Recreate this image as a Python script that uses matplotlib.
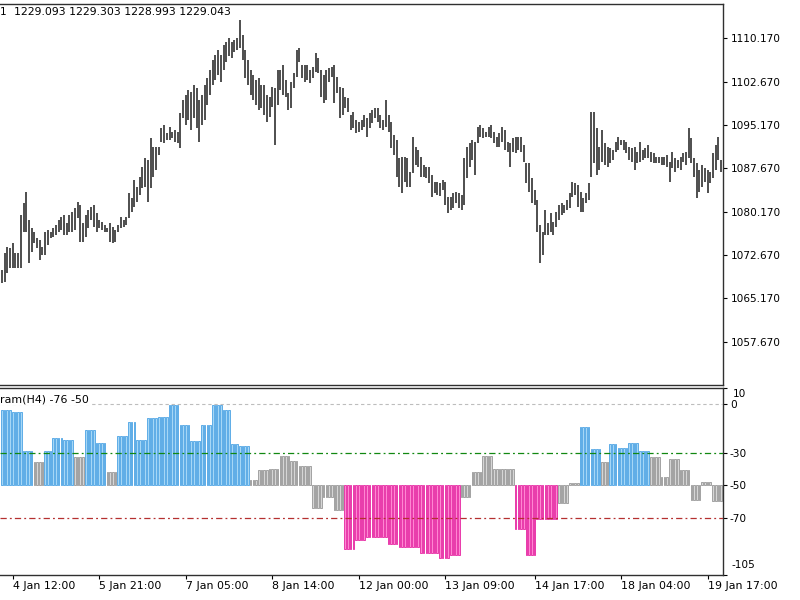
import matplotlib
matplotlib.use("Agg")
import matplotlib.pyplot as plt
import numpy as np

# ---------------- data ----------------
highs = [
    1070.1, 1073.0, 1074.1, 1073.9, 1074.8, 1073.0, 1073.0, 1079.6, 1081.7, 1083.6,
    1078.7, 1077.4, 1076.7, 1075.6, 1075.3, 1074.1, 1076.7, 1077.0, 1076.7, 1077.4,
    1077.9, 1078.7, 1079.2, 1079.6, 1078.2, 1079.6, 1080.1, 1080.8, 1081.8, 1081.3,
    1078.2, 1079.6, 1080.5, 1081.0, 1081.3, 1079.9, 1078.7, 1078.4, 1077.9, 1077.4,
    1078.2, 1077.5, 1077.0, 1077.9, 1079.2, 1078.7, 1079.2, 1083.4, 1082.5, 1085.7,
    1084.4, 1086.2, 1087.9, 1089.5, 1089.1, 1092.9, 1091.4, 1091.4, 1091.4, 1094.7,
    1095.2, 1093.8, 1094.8, 1094.0, 1094.3, 1094.0, 1097.2, 1099.5, 1100.4, 1101.2,
    1100.9, 1102.1, 1101.6, 1099.5, 1100.4, 1102.1, 1103.3, 1104.7, 1106.4, 1107.3,
    1108.1, 1107.3, 1109.0, 1109.5, 1110.2, 1109.5, 1109.9, 1110.2, 1113.3, 1110.7,
    1108.1, 1106.4, 1104.7, 1103.8, 1103.0, 1103.3, 1102.1, 1102.1, 1100.4, 1100.0,
    1101.7, 1101.6, 1104.7, 1104.7, 1105.6, 1103.0, 1100.7, 1102.6, 1104.2, 1108.1,
    1108.5, 1105.6, 1105.6, 1105.6, 1104.7, 1105.2, 1107.6, 1106.8, 1104.7, 1103.8,
    1104.7, 1105.0, 1105.2, 1105.6, 1103.5, 1101.7, 1101.6, 1100.0, 1099.8, 1096.9,
    1097.4, 1096.0, 1095.7, 1096.0, 1096.9, 1096.4, 1097.2, 1097.8, 1098.1, 1098.1,
    1096.9, 1096.0, 1099.5, 1096.9, 1095.7, 1093.4, 1092.6, 1089.5, 1089.6, 1089.6,
    1089.5, 1087.0, 1093.1, 1091.4, 1090.8, 1089.6, 1088.2, 1087.9, 1087.9, 1086.5,
    1085.3, 1085.3, 1085.1, 1085.7, 1085.3, 1082.7, 1082.7, 1083.4, 1083.6, 1083.4,
    1083.1, 1089.5, 1091.4, 1092.1, 1092.6, 1092.2, 1094.8, 1095.2, 1094.7, 1094.0,
    1094.8, 1095.2, 1094.0, 1093.1, 1093.8, 1094.8, 1094.3, 1092.2, 1092.1, 1092.9,
    1093.1, 1093.1, 1093.1, 1091.7, 1088.6, 1088.6, 1086.0, 1083.9, 1082.2, 1077.9,
    1076.7, 1080.5, 1078.2, 1079.9, 1078.4, 1080.1, 1081.3, 1081.7, 1081.3, 1082.2,
    1083.4, 1085.3, 1085.1, 1084.8, 1083.6, 1082.5, 1083.4, 1085.1, 1097.4, 1097.4,
    1094.7, 1091.4, 1094.3, 1092.1, 1091.4, 1091.2, 1090.8, 1092.2, 1093.1, 1092.6,
    1092.6, 1092.2, 1091.4, 1091.2, 1091.4, 1090.5, 1092.2, 1090.8, 1091.2, 1091.7,
    1090.5, 1090.3, 1089.6, 1089.6, 1089.6, 1089.6, 1090.0, 1088.8, 1090.5, 1089.5,
    1089.1, 1089.6, 1090.3, 1090.5, 1094.7, 1092.9, 1089.5, 1088.6, 1087.4, 1088.2,
    1087.7, 1087.4, 1087.0, 1090.3, 1091.7, 1093.1, 1089.1,
]
lows = [
    1067.8, 1068.0, 1069.6, 1070.4, 1070.4, 1070.4, 1070.4, 1070.4, 1076.7, 1076.7,
    1071.3, 1073.2, 1074.8, 1073.9, 1071.8, 1072.7, 1072.7, 1074.4, 1075.6, 1075.8,
    1076.1, 1076.7, 1077.0, 1076.1, 1076.1, 1076.7, 1076.7, 1077.0, 1079.1, 1074.9,
    1074.9, 1075.8, 1077.4, 1078.7, 1077.5, 1076.7, 1077.4, 1077.0, 1076.7, 1076.7,
    1074.9, 1074.7, 1074.9, 1076.7, 1077.4, 1077.5, 1077.9, 1079.1, 1080.1, 1081.0,
    1081.8, 1083.1, 1084.3, 1084.4, 1081.8, 1084.3, 1086.2, 1087.4, 1090.0, 1092.2,
    1092.1, 1092.6, 1092.6, 1092.9, 1092.2, 1092.1, 1091.2, 1096.4, 1095.2, 1096.0,
    1094.3, 1096.4, 1094.7, 1092.2, 1095.2, 1096.0, 1098.6, 1100.4, 1102.1, 1103.0,
    1103.8, 1102.6, 1104.7, 1106.1, 1107.1, 1106.8, 1107.8, 1108.1, 1108.5, 1106.4,
    1103.3, 1102.1, 1100.4, 1099.5, 1098.6, 1097.8, 1098.1, 1096.9, 1095.7, 1096.6,
    1098.3, 1091.7, 1098.6, 1101.2, 1100.4, 1100.0, 1097.8, 1098.1, 1101.6, 1103.5,
    1106.1, 1103.3, 1102.6, 1103.0, 1102.4, 1103.3, 1104.3, 1104.2, 1100.0, 1099.0,
    1099.5, 1102.6, 1103.5, 1099.0, 1100.7, 1096.4, 1096.9, 1098.1, 1097.4, 1094.3,
    1094.7, 1093.8, 1094.0, 1094.3, 1094.8, 1093.1, 1094.7, 1095.5, 1096.4, 1095.7,
    1094.7, 1094.3, 1094.8, 1094.0, 1091.2, 1090.0, 1086.2, 1084.4, 1083.4, 1085.3,
    1084.4, 1084.4, 1086.9, 1088.2, 1087.9, 1086.2, 1086.2, 1086.0, 1085.1, 1082.7,
    1083.4, 1083.1, 1082.9, 1083.9, 1081.3, 1079.9, 1080.5, 1080.8, 1081.7, 1080.8,
    1080.5, 1081.3, 1086.0, 1087.9, 1089.1, 1086.5, 1092.1, 1093.1, 1092.9, 1093.1,
    1093.1, 1092.9, 1092.1, 1091.4, 1091.4, 1092.2, 1090.8, 1090.5, 1087.9, 1090.5,
    1090.3, 1090.8, 1090.5, 1088.8, 1085.1, 1083.6, 1081.7, 1081.3, 1076.7, 1071.3,
    1072.7, 1076.1, 1076.1, 1076.7, 1076.1, 1077.5, 1078.7, 1079.6, 1079.9, 1080.5,
    1080.8, 1082.7, 1083.1, 1081.0, 1080.1, 1080.1, 1081.7, 1082.2, 1086.2, 1088.6,
    1086.5, 1087.4, 1088.8, 1088.2, 1087.9, 1088.6, 1089.1, 1090.5, 1090.8, 1091.7,
    1090.8, 1090.3, 1089.1, 1088.8, 1087.4, 1088.6, 1088.8, 1089.1, 1089.5, 1089.5,
    1088.8, 1088.6, 1088.6, 1088.6, 1088.2, 1088.2, 1087.9, 1085.3, 1087.7, 1087.0,
    1087.7, 1087.4, 1088.8, 1088.2, 1089.5, 1088.6, 1086.2, 1082.5, 1083.6, 1084.4,
    1085.3, 1083.4, 1085.1, 1086.0, 1087.4, 1089.1, 1087.0,
]

# H4 histogram values (one per H4 period) and number of H1 bars each spans
hist_values = [
    -4, -4, -5, -29, -36, -29, -21, -22, -33, -16, -24, -42, -20, -11, -22, -9,
    -8, -1, -13, -23, -13, -1, -4, -25, -26, -47, -41, -40, -32, -35, -38,
    -64, -57, -65, -89, -84, -82, -82, -86, -88, -88, -92, -92, -95, -93,
    -57, -42, -32, -40, -40, -77, -93, -71, -71, -61, -49, -14, -28, -36, -25,
    -27, -24, -29, -33, -45, -34, -41, -59, -48, -60,
]
hist_counts = [
    1, 3, 4, 4, 4, 3, 4, 4, 4, 4, 4, 4, 4, 3, 4, 4,
    4, 4, 4, 4, 4, 4, 3, 3, 4, 3, 4, 4, 4, 3, 5,
    4, 4, 4, 4, 4, 4, 4, 4, 4, 4, 4, 3, 4, 4,
    4, 4, 4, 4, 4, 4, 4, 4, 4, 4, 4, 4, 4, 3, 3,
    4, 4, 4, 4, 3, 4, 4, 4, 4, 4,
]
hist_base = -50
level_up = -30
level_dn = -70

price_ticks = [1057.67, 1065.17, 1072.67, 1080.17, 1087.67, 1095.17, 1102.67, 1110.17]
price_tick_labels = ["1057.670", "1065.170", "1072.670", "1080.170",
                     "1087.670", "1095.170", "1102.670", "1110.170"]
time_tick_bars = [4, 36, 68, 100, 132, 164, 197, 229, 261]
time_tick_labels = ["4 Jan 12:00", "5 Jan 21:00", "7 Jan 05:00", "8 Jan 14:00",
                    "12 Jan 00:00", "13 Jan 09:00", "14 Jan 17:00", "18 Jan 04:00",
                    "19 Jan 17:00"]
hist_ticks = [0, -30, -50, -70]
hist_tick_labels = ["0", "-30", "-50", "-70"]
quote_text = "1229.093 1229.303 1228.993 1229.043"
indicator_text = "ram(H4) -76 -50"

# ---------------- figure ----------------
W, H = 800, 600
FS = 7.6
SP = "#303030"
fig = plt.figure(figsize=(8, 6), dpi=100)
fig.patch.set_facecolor("white")

def rect(x0, y0, x1, y1):
    return [x0 / W, 1 - y1 / H, (x1 - x0) / W, (y1 - y0) / H]

n = len(highs)
x = np.arange(n)
xlim = (-0.7, 266.7)

ax1 = fig.add_axes(rect(0, 3.5, 723, 384.5))
ax1.vlines(x, lows, highs, color="#1e1e1e", lw=1.1)
ax1.set_xlim(*xlim)
ax1.set_ylim(1050.27, 1116.19)
ax1.spines["left"].set_visible(False)
for s in ["top", "right", "bottom"]:
    ax1.spines[s].set_color(SP)
    ax1.spines[s].set_linewidth(1.0)
ax1.yaxis.tick_right()
ax1.set_yticks(price_ticks)
ax1.set_yticklabels(price_tick_labels)
ax1.tick_params(axis="y", direction="out", length=3, width=0.8, pad=3,
                labelsize=FS, colors="black")
ax1.set_xticks([])

ax2 = fig.add_axes(rect(0, 387.5, 723, 574.6))
vals = np.repeat(hist_values, hist_counts)[:n]
face, edge = [], []
for v in vals:
    if v >= level_up:
        face.append("#a6d7f6"); edge.append("#3f9ce2")
    elif v <= level_dn:
        face.append("#ff86d2"); edge.append("#e3169a")
    else:
        face.append("#d6d6d6"); edge.append("#8f8f8f")
ax2.bar(x, vals - hist_base, bottom=hist_base, width=0.6, color=face,
        edgecolor=edge, linewidth=0.55, zorder=2)
ax2.axhline(0, color="#bdbdbd", lw=0.8, ls=(0, (3, 2.5)), zorder=3)
ax2.axhline(level_up, color="#118811", lw=0.9, ls=(0, (5, 2.5, 1.5, 2.5)), zorder=3)
ax2.axhline(level_dn, color="#b53030", lw=0.9, ls=(0, (5, 2.5, 1.5, 2.5)), zorder=3)
ax2.set_xlim(*xlim)
ax2.set_ylim(-105, 10)
ax2.spines["left"].set_visible(False)
for s in ["top", "right", "bottom"]:
    ax2.spines[s].set_color(SP)
    ax2.spines[s].set_linewidth(1.0)
ax2.yaxis.tick_right()
ax2.set_yticks(hist_ticks + [10, -105])
ax2.set_yticklabels(hist_tick_labels + ["", ""])
ax2.tick_params(axis="y", direction="out", length=3, width=0.8, pad=2,
                labelsize=FS, colors="black")
ax2.set_xticks(time_tick_bars)
ax2.set_xticklabels(time_tick_labels, ha="left")
ax2.tick_params(axis="x", direction="out", length=3, width=0.8, pad=1.5,
                labelsize=FS + 0.3, colors="black")

fig.text(733 / W, 1 - 394 / H, "10", fontsize=FS, va="center", ha="left")
fig.text(731 / W, 1 - 565 / H, "-105", fontsize=FS, va="center", ha="left")

fig.text(0.0 / W, 1 - 12 / H, "1", fontsize=FS, va="center", ha="left")
fig.text(14 / W, 1 - 12 / H, quote_text, fontsize=7.8, va="center", ha="left")
fig.text(0.5 / W, 1 - 399 / H, indicator_text, fontsize=7.9, va="center", ha="left",
         bbox=dict(facecolor="white", edgecolor="none", pad=0.8), zorder=5)

fig.savefig("out.png", dpi=100, facecolor="white")
